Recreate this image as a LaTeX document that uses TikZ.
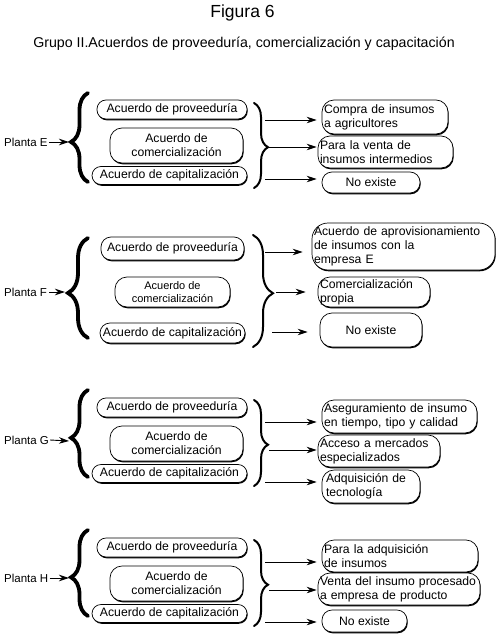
\documentclass[tikz,border=0pt]{standalone}
\usepackage{fontspec}
\setmainfont{Liberation Sans}
\usetikzlibrary{decorations.pathreplacing,arrows.meta,shadows,calc}
\tikzset{
 bx/.style={draw, line width=0.7pt, fill=white, inner sep=0pt,
   font=\fontsize{12.2}{14}\selectfont,
   drop shadow={shadow xshift=0.7pt, shadow yshift=-1.3pt, fill=black, opacity=1}},
 lbox/.style={bx, align=center},
 rbox/.style={bx, align=left},
 cbox/.style={bx, align=center},
 lbrace/.style={decorate, decoration={brace, amplitude=#1, aspect=0.45}, line width=3.8pt, line cap=round},
 lbrace/.default=17pt,
 rbrace/.style={decorate, decoration={brace, amplitude=#1, aspect=0.52}, line width=2pt, line cap=round},
 rbrace/.default=14pt,
 arr/.style={line width=0.9pt, -{Stealth[length=10pt,width=6.5pt]}},
 plab/.style={font=\fontsize{11.5}{13}\selectfont, inner sep=0pt, anchor=west},
 ttl/.style={inner sep=0pt},
}
\begin{document}
\begin{tikzpicture}[x=1pt,y=1pt]
\useasboundingbox[fill=white] (0,0) rectangle (496,-642);

\node[ttl, font=\fontsize{17.5}{20}\selectfont] (title) at (242.5,-12.5) {Figura 6};
\node[ttl, font=\fontsize{14.2}{16}\selectfont] (sub) at (244,-44) {Grupo II.Acuerdos de proveeduría, comercialización y capacitación};

% ---------------- Planta E
\node[plab] (PE) at (4,-142) {Planta E};
\draw[lbrace] (88,-182) -- (88,-93);
\coordinate (Etip) at (69,-142);
\draw[arr] (PE.east) ++(1,0) -- (Etip);
\node[lbox, minimum width=150pt, minimum height=19pt, rounded corners=9pt] (EP) at (172,-109.5) {Acuerdo de proveeduría};
\node[lbox, minimum width=133pt, minimum height=35pt, rounded corners=12pt] (EC) at (176.5,-145.5) {Acuerdo de\\comercialización};
\node[lbox, minimum width=155pt, minimum height=18pt, rounded corners=9pt] (EK) at (169.5,-175.5) {Acuerdo de capitalización};
\draw[rbrace] (254,-103) -- (254,-188);
\node[rbox, text width=122pt, minimum width=126pt, minimum height=34pt, rounded corners=12pt] (ER1) at (385,-117) {Compra de insumos\\a agricultores};
\node[rbox, text width=131pt, minimum width=135pt, minimum height=32pt, rounded corners=12pt] (ER2) at (385.5,-152) {Para la venta de\\insumos intermedios};
\node[cbox, minimum width=98pt, minimum height=21pt, rounded corners=10pt] (ER3) at (371,-182.5) {No existe};
\coordinate (Ea) at (265,-120);
\coordinate (Eb) at (269,-147);
\coordinate (Ec) at (265,-179);
\draw[arr, shorten >=5pt] (Ea) -- (Ea -| ER1.west);
\draw[arr, shorten >=1pt] (Eb) -- (Eb -| ER2.west);
\draw[arr, shorten >=5pt] (Ec) -- (Ec -| ER3.west);

% ---------------- Planta F
\node[plab] (PF) at (4,-292) {Planta F};
\draw[lbrace=20pt] (88,-338) -- (88,-238);
\coordinate (Ftip) at (65,-292);
\draw[arr] (PF.east) ++(2,0) -- (Ftip);
\node[lbox, minimum width=143pt, minimum height=23pt, rounded corners=10pt] (FP) at (172.5,-248.5) {Acuerdo de proveeduría};
\node[lbox, font=\fontsize{11}{13}\selectfont, minimum width=115pt, minimum height=30pt, rounded corners=12pt] (FC) at (172.5,-292) {Acuerdo de\\comercialización};
\node[lbox, minimum width=145pt, minimum height=20pt, rounded corners=10pt] (FK) at (172.5,-333) {Acuerdo de capitalización};
\draw[rbrace=20pt] (253,-235) -- (253,-347);
\node[rbox, text width=179pt, minimum width=183pt, minimum height=47pt, rounded corners=16pt] (FR1) at (403.5,-246.5) {Acuerdo de aprovisionamiento\\de insumos con la\\empresa E};
\node[rbox, text width=108pt, minimum width=112pt, minimum height=30pt, rounded corners=12pt] (FR2) at (374,-292) {Comercialización\\propia};
\node[cbox, minimum width=102pt, minimum height=34pt, rounded corners=12pt] (FR3) at (371,-330) {No existe};
\coordinate (Fa) at (265,-252);
\coordinate (Fb) at (276,-292);
\coordinate (Fc) at (272,-332);
\draw[arr, shorten >=9pt] (Fa) -- (Fa -| FR1.west);
\draw[arr, shorten >=12pt] (Fb) -- (Fb -| FR2.west);
\draw[arr, shorten >=12pt] (Fc) -- (Fc -| FR3.west);

% ---------------- Planta G
\node[plab] (PG) at (4,-440) {Planta G};
\draw[lbrace] (88,-477) -- (88,-390);
\coordinate (Gtip) at (69,-441);
\draw[arr] (PG.east) ++(1,0) -- (Gtip);
\node[lbox, minimum width=150pt, minimum height=19pt, rounded corners=9pt] (GP) at (172,-407.5) {Acuerdo de proveeduría};
\node[lbox, minimum width=133pt, minimum height=35pt, rounded corners=12pt] (GC) at (176.5,-443.5) {Acuerdo de\\comercialización};
\node[lbox, minimum width=155pt, minimum height=18pt, rounded corners=9pt] (GK) at (169.5,-473.5) {Acuerdo de capitalización};
\draw[rbrace] (254,-400) -- (254,-486);
\node[rbox, text width=151pt, minimum width=155pt, minimum height=33pt, rounded corners=12pt] (GR1) at (399.5,-416.5) {Aseguramiento de insumo\\en tiempo, tipo y calidad};
\node[rbox, text width=118pt, minimum width=122pt, minimum height=32pt, rounded corners=12pt] (GR2) at (379,-451) {Acceso a mercados\\especializados};
\node[rbox, text width=90pt, minimum width=98pt, minimum height=33pt, rounded corners=12pt] (GR3) at (371,-486.5) {Adquisición de\\tecnología};
\coordinate (Ga) at (265,-422);
\coordinate (Gb) at (269,-450);
\coordinate (Gc) at (265,-482);
\draw[arr, shorten >=5pt] (Ga) -- (Ga -| GR1.west);
\draw[arr, shorten >=1pt] (Gb) -- (Gb -| GR2.west);
\draw[arr, shorten >=5pt] (Gc) -- (Gc -| GR3.west);

% ---------------- Planta H
\node[plab] (PH) at (4,-578) {Planta H};
\draw[lbrace] (88,-616) -- (88,-530);
\coordinate (Htip) at (69,-578);
\draw[arr] (PH.east) ++(1,0) -- (Htip);
\node[lbox, minimum width=150pt, minimum height=19pt, rounded corners=9pt] (HP) at (172,-547.5) {Acuerdo de proveeduría};
\node[lbox, minimum width=133pt, minimum height=35pt, rounded corners=12pt] (HC) at (176.5,-583.5) {Acuerdo de\\comercialización};
\node[lbox, minimum width=155pt, minimum height=18pt, rounded corners=9pt] (HK) at (169.5,-613.5) {Acuerdo de capitalización};
\draw[rbrace] (254,-540) -- (254,-626);
\node[rbox, text width=152pt, minimum width=156pt, minimum height=32pt, rounded corners=12pt] (HR1) at (400,-556) {Para la adquisición\\de insumos};
\node[rbox, text width=158pt, minimum width=162pt, minimum height=32pt, rounded corners=12pt] (HR2) at (399,-589) {Venta del insumo procesado\\a empresa de producto};
\node[cbox, minimum width=85pt, minimum height=22pt, rounded corners=10pt] (HR3) at (364.5,-621) {No existe};
\coordinate (Ha) at (265,-562);
\coordinate (Hb) at (269,-590);
\coordinate (Hc) at (265,-622);
\draw[arr, shorten >=5pt] (Ha) -- (Ha -| HR1.west);
\draw[arr, shorten >=1pt] (Hb) -- (Hb -| HR2.west);
\draw[arr, shorten >=5pt] (Hc) -- (Hc -| HR3.west);
\end{tikzpicture}
\end{document}
